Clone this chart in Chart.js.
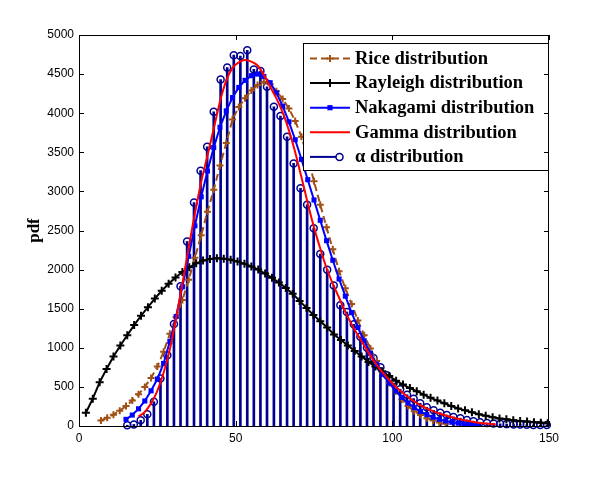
<!DOCTYPE html>
<html><head><meta charset="utf-8">
<script src="https://cdn.jsdelivr.net/npm/chart.js@4"></script>
<style>html,body{margin:0;padding:0;background:#fff;}canvas{display:block;}</style>
</head><body>
<canvas id="c" width="606" height="479" style="width:606px;height:479px"></canvas>
<script>
// ---------- data ----------
const seriesNames = ['Rice distribution','Rayleigh distribution','Nakagami distribution','Gamma distribution','\u03b1 distribution'];
const xTickValues = [0, 50, 100, 150];
const yTickValues = [0,500,1000,1500,2000,2500,3000,3500,4000,4500,5000];

const riceX = [7,9,11,13,15,17,19,21,23,25,27,29,31,33,35,37,39,41,43,45,47,49,51,53,55,57,59,61,63,65,67,69,71,73,75,77,79,81,83,85,87,89,91,93,95,97,99,101,103,105,107,109,111,113,115,117];
const riceY = [70,105,145,195,255,325,405,500,615,760,950,1180,1390,1610,1870,2150,2440,2740,3020,3330,3620,3920,4080,4190,4290,4360,4400,4370,4280,4180,4060,3900,3700,3430,3130,2830,2540,2260,1980,1760,1560,1350,1160,990,830,680,550,440,340,255,190,140,100,70,45,28];

const rayX = [2.2,4.4,6.6,8.8,11,13.2,15.4,17.6,19.8,22,24.2,26.4,28.6,30.8,33,35.2,37.4,39.6,41.8,44,46.2,48.4,50.6,52.8,55,57.2,59.4,61.6,63.8,66,68.2,70.4,72.6,74.8,77,79.2,81.4,83.6,85.8,88,90.2,92.4,94.6,96.8,99,101.2,103.4,105.6,107.8,110,112.2,114.4,116.6,118.8,121,123.2,125.4,127.6,129.8,132,134.2,136.4,138.6,140.8,143,145.2,147.4,149.6];
const rayY = [170,350,560,730,890,1030,1160,1290,1410,1520,1630,1730,1820,1900,1970,2030,2080,2115,2135,2145,2140,2125,2105,2075,2040,2000,1950,1895,1835,1765,1690,1600,1510,1420,1340,1260,1170,1100,1030,960,890,820,760,700,640,580,530,485,445,400,360,325,290,255,225,200,175,150,130,112,97,85,74,64,56,48,42,36];

const nakX = [15,17,19,21,23,25,27,29,31,33,35,37,39,41,43,45,47,49,51,53,55,57,59,61,63,65,67,69,71,73,75,77,79,81,83,85,87,89,91,93,95,97,99,101,103,105,107,109,111,113,115,117,119,121,123,125,127];
const nakY = [85,140,220,320,450,600,800,1080,1400,1780,2170,2560,2930,3260,3560,3820,4030,4200,4330,4420,4480,4500,4470,4390,4260,4090,3890,3660,3410,3150,2890,2630,2370,2120,1880,1660,1450,1260,1090,930,790,660,550,450,365,295,235,185,145,112,85,64,48,36,27,20,15];

const gamX = [19,21,23,25,27,29,31,33,35,37,39,41,43,45,47,49,51,53,55,57,59,61,63,65,67,69,71,73,75,77,79,81,83,85,87,89,91,93,95,97,99,101,103,105,107,109,111,113,115,117,119,121,123,125,127,129,131,133];
const gamY = [120,180,290,450,680,980,1380,1820,2280,2720,3120,3460,3800,4150,4420,4580,4650,4680,4660,4610,4490,4340,4190,4010,3780,3500,3180,2850,2540,2270,2020,1820,1640,1460,1300,1160,1030,900,780,680,590,505,435,370,315,265,225,190,160,135,112,93,75,58,45,34,26,19];

const alphaX = [15.4,17.5,19.7,21.8,23.9,26.0,28.2,30.3,32.4,34.5,36.7,38.8,40.9,43.0,45.2,47.3,49.4,51.5,53.7,55.8,57.9,60.0,62.2,64.3,66.4,68.5,70.7,72.8,74.9,77.0,79.2,81.3,83.4,85.5,87.7,89.8,91.9,94.0,96.2,98.3,100.4,102.5,104.7,106.8,108.9,111.0,113.2,115.3,117.4,119.5,121.7,123.8,125.9,128.0,130.2,132.3,134.4,136.5,138.7,140.8,142.9,145.0,147.2,149.3];
const alphaY = [10,20,72,149,310,608,906,1305,1786,2360,2857,3265,3571,4018,4430,4583,4742,4732,4805,4560,4540,4337,4082,3963,3699,3358,3040,2828,2529,2198,1999,1798,1543,1458,1300,1140,1000,870,750,650,550,470,400,350,290,240,200,170,140,115,100,78,62,48,38,32,28,24,20,18,16,14,12,12];

// ---------- styles ----------
const C_RICE = 'rgb(160,80,20)', C_RAY = '#000000', C_NAK = '#0000ff', C_GAM = '#ff0000', C_ALPHA = '#000090';
const pts = (xs, ys) => xs.map((x, i) => ({x: x, y: ys[i]}));

const legendDefs = [
  {color: C_RICE, dash: [7,4], marker: 'plus', r: 3.5},
  {color: C_RAY, dash: [], marker: 'plus', r: 4},
  {color: C_NAK, dash: [], marker: 'square', r: 2.6},
  {color: C_GAM, dash: [], marker: null},
  {color: C_ALPHA, dash: [], marker: 'circleEnd', r: 3.5}
];

function mark(ctx, type, x, y, r, color) {
  ctx.save();
  ctx.strokeStyle = color; ctx.fillStyle = color; ctx.setLineDash([]);
  if (type === 'plus') {
    ctx.lineWidth = 2; ctx.beginPath();
    ctx.moveTo(x - r, y); ctx.lineTo(x + r, y); ctx.moveTo(x, y - r); ctx.lineTo(x, y + r); ctx.stroke();
  } else if (type === 'square') {
    ctx.fillRect(x - r, y - r, 2 * r, 2 * r);
  } else if (type === 'circle') {
    ctx.lineWidth = 1.5; ctx.beginPath(); ctx.arc(x, y, r, 0, Math.PI * 2); ctx.stroke();
  }
  ctx.restore();
}

const framePlugin = {
  id: 'frame',
  afterDraw(chart) {
    const ctx = chart.ctx, a = chart.chartArea, xs = chart.scales.x, ys = chart.scales.y;
    ctx.save();
    // legend
    const L = 303.5, T = 43.5, R = 548.5, B = 170.5;
    ctx.fillStyle = '#fff'; ctx.fillRect(L, T, R - L, B - T);
    ctx.strokeStyle = '#000'; ctx.lineWidth = 1; ctx.strokeRect(L, T, R - L, B - T);
    ctx.font = 'bold 18.5px "Liberation Serif", "Times New Roman", serif';
    ctx.textBaseline = 'middle'; ctx.textAlign = 'left';
    legendDefs.forEach((d, i) => {
      const yy = 58.5 + i * 24.6;
      ctx.save();
      ctx.strokeStyle = d.color; ctx.lineWidth = 2; ctx.setLineDash(d.dash);
      ctx.beginPath(); ctx.moveTo(310, yy);
      ctx.lineTo(d.marker === 'circleEnd' ? 336 : 350, yy); ctx.stroke();
      ctx.restore();
      if (d.marker === 'circleEnd') mark(ctx, 'circle', 339.5, yy, d.r, d.color);
      else if (d.marker) mark(ctx, d.marker, 330, yy, d.r, d.color);
      ctx.fillStyle = '#000';
      ctx.fillText(seriesNames[i], 355, yy + 0.5);
    });
    // box
    ctx.strokeStyle = '#000'; ctx.lineWidth = 1; ctx.setLineDash([]);
    ctx.strokeRect(a.left + 0.5, a.top + 0.5, a.right - a.left - 1, a.bottom - a.top);
    // ticks inward
    ctx.beginPath();
    xTickValues.forEach(v => {
      const px = Math.round(xs.getPixelForValue(v)) + 0.5;
      ctx.moveTo(px, a.bottom); ctx.lineTo(px, a.bottom - 5);
      ctx.moveTo(px, a.top); ctx.lineTo(px, a.top + 5);
    });
    yTickValues.forEach(v => {
      const py = Math.round(ys.getPixelForValue(v)) + 0.5;
      ctx.moveTo(a.left, py); ctx.lineTo(a.left + 5, py);
      ctx.moveTo(a.right, py); ctx.lineTo(a.right - 5, py);
    });
    ctx.stroke();
    ctx.restore();
  }
};

Chart.defaults.font.family = '"Liberation Sans", Arial, sans-serif';
Chart.defaults.font.size = 12;
Chart.defaults.color = '#000';

new Chart(document.getElementById('c'), {
  type: 'line',
  data: {
    datasets: [
      {type: 'line', label: seriesNames[3], data: pts(gamX, gamY), borderColor: C_GAM, borderWidth: 2, pointRadius: 0, cubicInterpolationMode: 'monotone', order: 1},
      {type: 'line', label: seriesNames[2], data: pts(nakX, nakY), borderColor: C_NAK, backgroundColor: C_NAK, borderWidth: 2, pointStyle: 'rect', pointRadius: 3.6, pointBorderWidth: 0, pointBackgroundColor: C_NAK, order: 2},
      {type: 'line', label: seriesNames[1], data: pts(rayX, rayY), borderColor: C_RAY, borderWidth: 2, pointStyle: 'cross', pointRadius: 4, pointBorderWidth: 2, pointBorderColor: C_RAY, order: 3},
      {type: 'line', label: seriesNames[0], data: pts(riceX, riceY), borderColor: C_RICE, borderWidth: 2, borderDash: [7,4], pointStyle: 'cross', pointRadius: 3.5, pointBorderWidth: 2, pointBorderColor: C_RICE, order: 4},
      {type: 'line', label: seriesNames[4], data: pts(alphaX, alphaY), showLine: false, pointStyle: 'circle', pointRadius: 3.5, pointBorderWidth: 1.5, pointBorderColor: C_ALPHA, pointBackgroundColor: 'rgba(0,0,0,0)', clip: false, order: 5},
      {type: 'bar', label: seriesNames[4] + ' stems', data: pts(alphaX, alphaY), backgroundColor: C_ALPHA, barThickness: 2, borderWidth: 0, order: 6}
    ]
  },
  options: {
    responsive: false, animation: false, devicePixelRatio: 1,
    layout: {padding: {top: 35, right: 57, left: 0, bottom: 0}},
    plugins: {legend: {display: false}, tooltip: {enabled: false}},
    scales: {
      x: {
        type: 'linear', min: 0, max: 150, offset: false,
        grid: {display: false, drawTicks: false}, border: {display: false},
        ticks: {padding: 5, maxRotation: 0, autoSkip: false, callback: v => String(v)},
        afterBuildTicks: s => { s.ticks = xTickValues.map(v => ({value: v})); },
        afterFit: s => { s.height = 53; }
      },
      y: {
        type: 'linear', min: 0, max: 5000,
        grid: {display: false, drawTicks: false}, border: {display: false},
        ticks: {padding: 5, autoSkip: false, callback: v => String(v)},
        afterBuildTicks: s => { s.ticks = yTickValues.map(v => ({value: v})); },
        title: {display: true, text: 'pdf', color: '#000', font: {family: '"Liberation Serif", "Times New Roman", serif', size: 17, weight: 'bold'}, padding: {top: 24, bottom: 0}},
        afterFit: s => { s.width = 79; }
      }
    }
  },
  plugins: [framePlugin]
});
</script>
</body></html>
